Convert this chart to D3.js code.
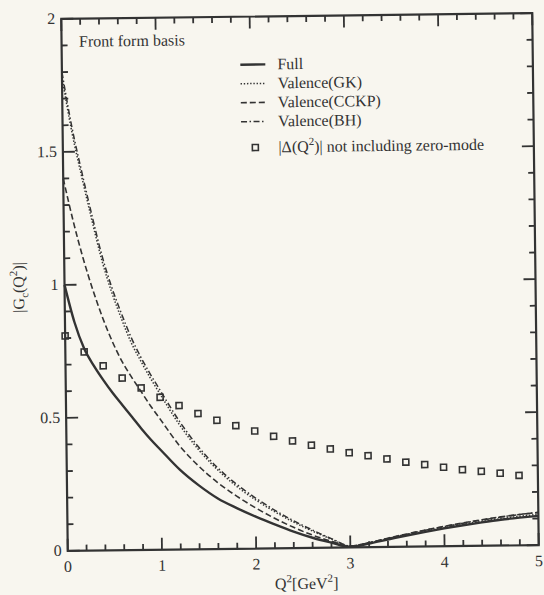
<!DOCTYPE html>
<html lang='en'>
<head>
  <meta charset='UTF-8'>
  <title>Front form basis</title>
  <script src='https://d3js.org/d3.v7.min.js'></script>
  <style>
    body { margin: 0; background: #f8f6ef; }
    svg { display: block; font-family: 'Liberation Serif', 'Times New Roman', serif; }
    .lab { font-size: 16px; fill: #333; }
  </style>
</head>
<body>
<svg id='chart' width='544' height='595'></svg>
<script>
  // Q^2 grid the curves were read at
  const q = [0, 0.1, 0.2, 0.3, 0.4, 0.5, 0.6, 0.7, 0.8, 0.9, 1.0, 1.2, 1.4, 1.6, 1.8, 2.0,
             2.2, 2.4, 2.6, 2.8, 3.0, 3.2, 3.4, 3.6, 3.8, 4.0, 4.2, 4.4, 4.6, 4.8, 5.0]
  const full = [1.00, 0.86, 0.76, 0.695, 0.64, 0.59, 0.545, 0.50, 0.455, 0.413, 0.375, 0.30, 0.24, 0.19, 0.153, 0.12,
                0.09, 0.062, 0.038, 0.019, 0.002, 0.014, 0.028, 0.042, 0.055, 0.067, 0.078, 0.088, 0.097, 0.104, 0.110]
  const gk   = [1.78, 1.57, 1.40, 1.24, 1.09, 0.97, 0.87, 0.78, 0.71, 0.645, 0.585, 0.47, 0.375, 0.298, 0.235, 0.183,
                0.138, 0.098, 0.063, 0.032, 0.005, 0.016, 0.031, 0.045, 0.058, 0.070, 0.082, 0.092, 0.101, 0.109, 0.116]
  const cckp = [1.40, 1.24, 1.10, 0.98, 0.875, 0.785, 0.71, 0.65, 0.595, 0.54, 0.49, 0.39, 0.313, 0.25, 0.198, 0.153,
                0.113, 0.078, 0.048, 0.024, 0.005, 0.017, 0.033, 0.048, 0.062, 0.075, 0.087, 0.098, 0.108, 0.116, 0.123]
  const bh   = [1.80, 1.59, 1.42, 1.26, 1.11, 0.99, 0.89, 0.80, 0.725, 0.66, 0.60, 0.483, 0.385, 0.306, 0.243, 0.19,
                0.144, 0.103, 0.067, 0.034, 0.006, 0.017, 0.032, 0.047, 0.061, 0.074, 0.086, 0.097, 0.107, 0.116, 0.123]

  // |Delta(Q^2)| without zero-mode (open squares)
  const qDelta = [0, 0.2, 0.4, 0.6, 0.8, 1.0, 1.2, 1.4, 1.6, 1.8, 2.0, 2.2, 2.4, 2.6, 2.8, 3.0,
                  3.2, 3.4, 3.6, 3.8, 4.0, 4.2, 4.4, 4.6, 4.8]
  const delta = [0.808, 0.747, 0.694, 0.647, 0.609, 0.573, 0.541, 0.510, 0.484, 0.463, 0.442, 0.421, 0.403, 0.386, 0.371, 0.356,
                 0.344, 0.331, 0.318, 0.308, 0.297, 0.287, 0.280, 0.272, 0.263]

  const xMajor = [0, 1, 2, 3, 4, 5]
  const xMinor = [0.2, 0.4, 0.6, 0.8, 1.2, 1.4, 1.6, 1.8, 2.2, 2.4, 2.6, 2.8, 3.2, 3.4, 3.6, 3.8, 4.2, 4.4, 4.6, 4.8]
  const yMajor = [0, 0.5, 1, 1.5, 2]
  const yMinor = [0.1, 0.2, 0.3, 0.4, 0.6, 0.7, 0.8, 0.9, 1.1, 1.2, 1.3, 1.4, 1.6, 1.7, 1.8, 1.9]

  const legendNames = ['Full', 'Valence(GK)', 'Valence(CCKP)', 'Valence(BH)']

  const ink = '#333'
  const L = 64.5, R = 535.5, T = 16, B = 548

  const x = d3.scaleLinear().domain([0, 5]).range([L, R])
  const y = d3.scaleLinear().domain([0, 2]).range([B, T])

  const svg = d3.select('#chart')
  // the scanned page is a little tilted
  const g = svg.append('g').attr('transform', 'rotate(-0.7, 300, 282)')

  // inward ticks on all four sides
  const tk = g.append('g').attr('stroke', ink).attr('stroke-width', 1.8)
  const xt = xMajor.map(v => [v, 12]).concat(xMinor.map(v => [v, 6]))
  const yt = yMajor.map(v => [v, 12]).concat(yMinor.map(v => [v, 6]))
  tk.selectAll('line.xb').data(xt).enter().append('line')
    .attr('class', 'xb')
    .attr('x1', d => x(d[0])).attr('x2', d => x(d[0]))
    .attr('y1', B).attr('y2', d => B - d[1])
  tk.selectAll('line.xt').data(xt).enter().append('line')
    .attr('class', 'xt')
    .attr('x1', d => x(d[0])).attr('x2', d => x(d[0]))
    .attr('y1', T).attr('y2', d => T + d[1])
  tk.selectAll('line.yl').data(yt).enter().append('line')
    .attr('class', 'yl')
    .attr('y1', d => y(d[0])).attr('y2', d => y(d[0]))
    .attr('x1', L).attr('x2', d => L + d[1])
  tk.selectAll('line.yr').data(yt).enter().append('line')
    .attr('class', 'yr')
    .attr('y1', d => y(d[0])).attr('y2', d => y(d[0]))
    .attr('x1', R).attr('x2', d => R - d[1])

  g.selectAll('text.xl').data(xMajor).enter().append('text')
    .attr('class', 'lab xl')
    .attr('x', d => x(d)).attr('y', B + 21)
    .attr('text-anchor', 'middle')
    .text(d => d)
  g.selectAll('text.yl').data(yMajor).enter().append('text')
    .attr('class', 'lab yl')
    .attr('x', L - 6).attr('y', d => y(d) + 5)
    .attr('text-anchor', 'end')
    .text(d => d)

  g.append('rect')
    .attr('x', L).attr('y', T).attr('width', R - L).attr('height', B - T)
    .attr('fill', 'none').attr('stroke', ink).attr('stroke-width', 2.2)

  const styles = [
    { vals: full, dash: null, w: 2.4 },
    { vals: gk, dash: '1.4,1.8', w: 1.5 },
    { vals: cckp, dash: '6,3', w: 1.6 },
    { vals: bh, dash: '6,2.5,1.5,2.5', w: 1.5 }
  ]

  const line = d3.line()
    .x(d => x(d[0]))
    .y(d => y(d[1]))
    .curve(d3.curveMonotoneX)

  g.append('g').selectAll('path.curve')
    .data(styles).enter()
    .append('path')
      .attr('class', 'curve')
      .attr('d', s => line(q.map((v, i) => [v, s.vals[i]])))
      .attr('fill', 'none')
      .attr('stroke', ink)
      .attr('stroke-width', s => s.w)
      .attr('stroke-dasharray', s => s.dash)

  g.append('g').selectAll('rect.pt')
    .data(qDelta).enter()
    .append('rect')
      .attr('class', 'pt')
      .attr('x', d => x(d) - 3)
      .attr('y', (d, i) => y(delta[i]) - 3)
      .attr('width', 6).attr('height', 6)
      .attr('fill', 'none').attr('stroke', ink).attr('stroke-width', 1.6)

  // texts
  g.append('text')
    .attr('x', 82).attr('y', 44)
    .style('font-size', '16px').attr('fill', ink)
    .text('Front form basis')

  const leg = g.append('g').attr('transform', 'translate(243,0)')
  const rows = [64, 83, 102, 121]
  leg.selectAll('line')
    .data(styles).enter()
    .append('line')
      .attr('x1', 0).attr('x2', 25)
      .attr('y1', (d, i) => rows[i]).attr('y2', (d, i) => rows[i])
      .attr('stroke', ink)
      .attr('stroke-width', s => s.w)
      .attr('stroke-dasharray', s => s.dash)
  leg.selectAll('text.name')
    .data(legendNames).enter()
    .append('text')
      .attr('class', 'name')
      .attr('x', 37).attr('y', (d, i) => rows[i] + 5)
      .style('font-size', '16px').attr('fill', ink)
      .text(d => d)
  leg.append('rect')
    .attr('x', 11).attr('y', 144).attr('width', 6).attr('height', 6)
    .attr('fill', 'none').attr('stroke', ink).attr('stroke-width', 1.6)
  const dt = leg.append('text')
    .attr('x', 37).attr('y', 152)
    .style('font-size', '16px').attr('fill', ink)
  dt.append('tspan').text('|\u0394(Q')
  dt.append('tspan').attr('dy', -7).style('font-size', '11px').text('2')
  dt.append('tspan').attr('dy', 7).text(')| not including zero-mode')

  const xl = g.append('text')
    .attr('x', 303).attr('y', 589)
    .attr('text-anchor', 'middle')
    .style('font-size', '16px').attr('fill', ink)
  xl.append('tspan').text('Q')
  xl.append('tspan').attr('dy', -7).style('font-size', '11px').text('2')
  xl.append('tspan').attr('dy', 7).text('[GeV')
  xl.append('tspan').attr('dy', -7).style('font-size', '11px').text('2')
  xl.append('tspan').attr('dy', 7).text(']')

  const yl = g.append('text')
    .attr('transform', 'translate(24,284) rotate(-90)')
    .attr('text-anchor', 'middle')
    .style('font-size', '16px').attr('fill', ink)
  yl.append('tspan').text('|G')
  yl.append('tspan').attr('dy', 4).style('font-size', '11px').text('c')
  yl.append('tspan').attr('dy', -4).text('(Q')
  yl.append('tspan').attr('dy', -7).style('font-size', '11px').text('2')
  yl.append('tspan').attr('dy', 7).text(')|')
</script>
</body>
</html>
